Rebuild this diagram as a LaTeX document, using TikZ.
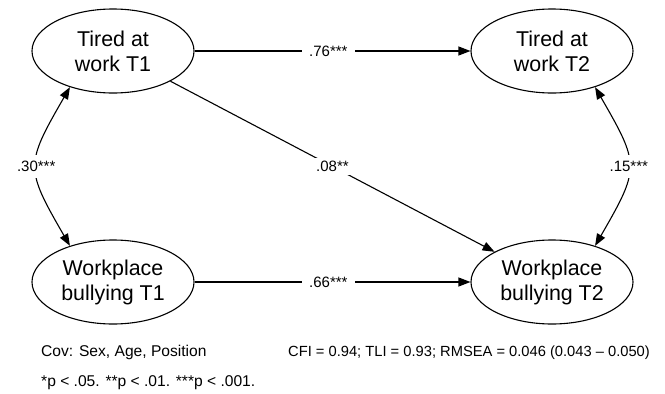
\documentclass[tikz,border=0pt]{standalone}
\usepackage{fontspec}
\setmainfont{Liberation Sans}
\usetikzlibrary{arrows.meta,shapes.geometric}
\begin{document}
\begin{tikzpicture}[x=1pt,y=-1pt,
  latent/.style={ellipse, draw, line width=1.1pt, minimum width=162pt, minimum height=84pt, inner sep=0pt, align=center, font=\fontsize{21.4}{25}\selectfont},
  regpath/.style={line width=1.1pt, -{Triangle[length=12pt,width=9pt]}},
  covpath/.style={line width=1.1pt, {Triangle[length=12pt,width=9pt]}-{Triangle[length=12pt,width=9pt]}},
  coef/.style={fill=white, inner xsep=7pt, inner ysep=3pt, font=\fontsize{15}{18}\selectfont},
  note/.style={inner sep=0pt, font=\fontsize{15.6}{18}\selectfont}]
\useasboundingbox (0,0) rectangle (665,394);

\node[latent] (T1) at (113,51) {Tired at\\work T1};
\node[latent] (T2) at (552,51) {Tired at\\work T2};
\node[latent] (W1) at (113,282) {Workplace\\bullying T1};
\node[latent] (W2) at (552,282) {Workplace\\bullying T2};

\draw[regpath] (T1) -- node[coef, pos=0.485] {.76***} (T2);
\draw[regpath] (T1) -- node[coef, midway] {.08**} (W2);
\draw[regpath] (W1) -- node[coef, pos=0.485] {.66***} (W2);

\draw[covpath] (T1.220) .. controls +(-45,78) and +(-45,-78) .. node[coef, midway, inner xsep=1pt, inner ysep=6pt] {.30***} (W1.140);
\draw[covpath] (T2.-40) .. controls +(45,78) and +(45,-78) .. node[coef, midway, inner xsep=1pt, inner ysep=6pt] {.15***} (W2.40);

\node[note, anchor=base west] (cov) at (41,356.4) {Cov: Sex, Age, Position};
\node[note, anchor=base east, font=\fontsize{14.7}{18}\selectfont] (fit) at (650,356.4) {CFI = 0.94; TLI = 0.93; RMSEA = 0.046 (0.043 \textendash{} 0.050)};
\node[note, anchor=base west] (sig) at (41,386.4) {*p < .05. **p < .01. ***p < .001.};
\end{tikzpicture}
\end{document}
